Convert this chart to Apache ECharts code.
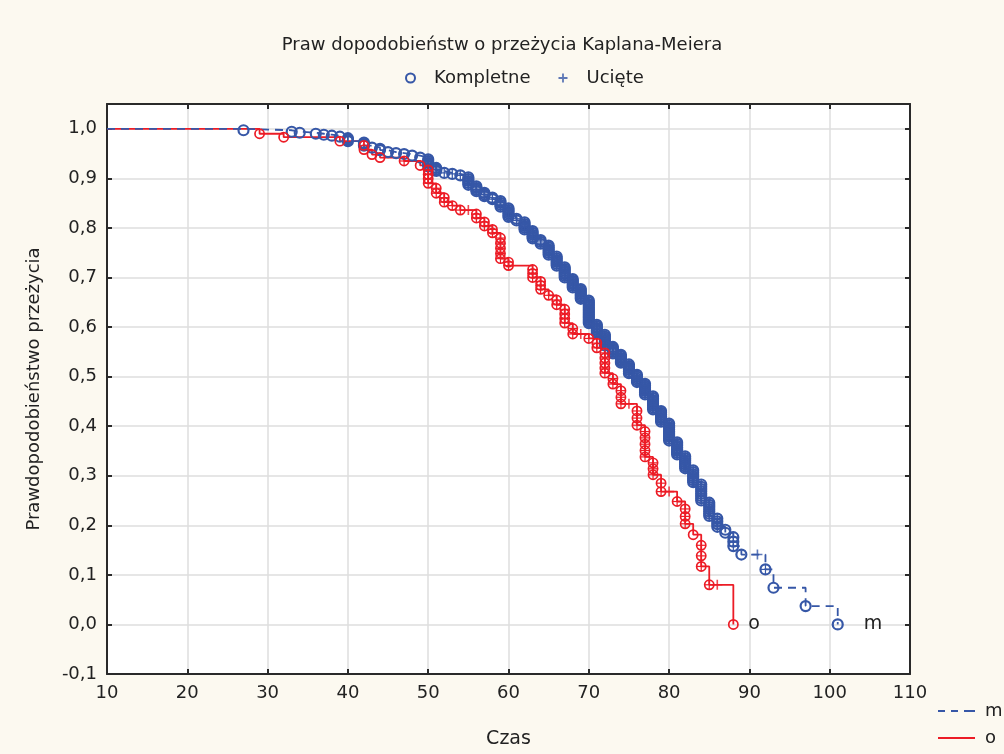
<!DOCTYPE html>
<html>
<head>
<meta charset="utf-8">
<script src="https://cdn.jsdelivr.net/npm/echarts@6/dist/echarts.min.js"></script>
<style>
  html, body { margin: 0; padding: 0; background: #fcf9f0; }
  #main { width: 1004px; height: 754px; }
</style>
</head>
<body>
<div id="main"></div>
<script>
// grupa "m": wiek zdarzenia, przeżycie po nim, liczba zdarzeń w tym wieku
var mAges = [27, 33, 34, 36, 37, 38, 39, 40, 42, 43, 44, 45, 46, 47, 48, 49, 50, 51, 52, 53, 54,
  55, 56, 57, 58, 59, 60, 61, 62, 63, 64, 65, 66, 67, 68, 69, 70, 71, 72, 73, 74, 75, 76, 77,
  78, 79, 80, 81, 82, 83, 84, 85, 86, 87, 88, 89, 92, 93, 97, 101];
var mSurv = [0.997, 0.994, 0.992, 0.990, 0.988, 0.986, 0.984, 0.975, 0.966, 0.962, 0.957, 0.953,
  0.951, 0.949, 0.946, 0.942, 0.924, 0.915, 0.911, 0.909, 0.906, 0.887, 0.874, 0.864, 0.858,
  0.843, 0.822, 0.815, 0.797, 0.779, 0.768, 0.746, 0.724, 0.700, 0.680, 0.657, 0.608, 0.588,
  0.563, 0.547, 0.528, 0.507, 0.489, 0.464, 0.434, 0.409, 0.371, 0.343, 0.315, 0.287, 0.250,
  0.219, 0.197, 0.185, 0.158, 0.141, 0.111, 0.074, 0.037, 0.0];
var mCount = [1, 1, 1, 1, 1, 1, 1, 3, 3, 1, 2, 1, 1, 1, 1, 1, 5, 3, 1, 1, 1,
  5, 4, 3, 2, 4, 6, 2, 5, 5, 3, 6, 6, 7, 6, 7, 14, 6, 7, 5, 6, 6, 5, 7,
  8, 7, 10, 8, 7, 7, 8, 7, 4, 2, 3, 1, 1, 1, 1, 1];
// obserwacje ucięte (wiek)
var mCens = [50, 51, 52, 53, 54, 55, 56, 57, 58, 59, 60, 61, 62, 63, 64, 65, 66, 67, 68, 69, 70,
  71, 72, 73, 74, 75, 76, 77, 78, 79, 80, 81, 82, 83, 84, 85, 86, 88, 91, 92];

// grupa "o"
var oAges = [29, 32, 39, 42, 43, 44, 47, 49, 50, 51, 52, 53, 54, 56, 57, 58, 59, 60, 63, 64, 65,
  66, 67, 68, 70, 71, 72, 73, 74, 76, 77, 78, 79, 81, 82, 83, 84, 85, 88];
var oSurv = [0.990, 0.983, 0.975, 0.958, 0.948, 0.942, 0.935, 0.926, 0.890, 0.870, 0.852, 0.845,
  0.836, 0.820, 0.804, 0.790, 0.738, 0.724, 0.700, 0.676, 0.664, 0.645, 0.608, 0.586, 0.577,
  0.558, 0.507, 0.485, 0.445, 0.402, 0.338, 0.302, 0.268, 0.248, 0.203, 0.181, 0.117, 0.080, 0.0];
var oCount = [1, 1, 1, 2, 1, 1, 1, 1, 4, 2, 2, 1, 1, 2, 2, 2, 5, 2, 3, 3, 1,
  2, 4, 2, 1, 2, 5, 2, 3, 3, 5, 3, 2, 1, 3, 1, 3, 1, 1];
var oCens = [47, 50, 51, 52, 53, 54, 55, 56, 57, 58, 59, 60, 63, 64, 65, 66, 67, 68, 69, 70, 71,
  72, 73, 74, 75, 76, 77, 78, 79, 80, 81, 82, 84, 85, 86];

var xTicks = [10, 20, 30, 40, 50, 60, 70, 80, 90, 100, 110];

var BLUE = '#3657a7';
var RED = '#ec1c26';
var TXT = '#222';
var FONT = '"DejaVu Sans", sans-serif';

function stepData(ages, surv) {
  var d = [[xTicks[0], 1]];
  ages.forEach(function (a, i) { d.push([a, surv[i]]); });
  return d;
}

function columns(ages, surv, counts, cens) {
  return ages.map(function (a, i) {
    return [a, i ? surv[i - 1] : 1, surv[i], counts[i], cens.indexOf(a) >= 0 ? 1 : 0];
  });
}

// ucięte bez zdarzenia w tym samym wieku -> samodzielny znak +
function lonePlus(ages, surv, cens) {
  var out = [];
  cens.forEach(function (c) {
    if (ages.indexOf(c) >= 0) return;
    var s = 1;
    ages.forEach(function (a, i) { if (a < c) s = surv[i]; });
    out.push([c, s]);
  });
  return out;
}

function makeRender(color, r, lw) {
  return function (params, api) {
    var age = api.value(0), s0 = api.value(1), s1 = api.value(2);
    var n = api.value(3);
    var plus = api.value(4) === 1;
    var kids = [];
    for (var k = 1; k <= n; k++) {
      var p = api.coord([age, s0 - k * (s0 - s1) / n]);
      kids.push({ type: 'circle', shape: { cx: p[0], cy: p[1], r: r },
        style: { fill: 'none', stroke: color, lineWidth: lw } });
      if (plus) {
        kids.push({ type: 'line', shape: { x1: p[0] - r, y1: p[1], x2: p[0] + r, y2: p[1] }, style: { stroke: color, lineWidth: 1.2 } });
        kids.push({ type: 'line', shape: { x1: p[0], y1: p[1] - r, x2: p[0], y2: p[1] + r }, style: { stroke: color, lineWidth: 1.2 } });
      }
    }
    return { type: 'group', children: kids };
  };
}

var PLUS = 'path://M0,5L10,5M5,0L5,10';

var chart = echarts.init(document.getElementById('main'));

var axisCommon = {
  axisLine: { show: true, onZero: false, lineStyle: { color: '#2a2a2a', width: 2 } },
  axisTick: { show: true, inside: true, length: 5, lineStyle: { color: '#2a2a2a', width: 2 } }
};

chart.setOption({
  backgroundColor: '#fcf9f0',
  animation: false,
  textStyle: { fontFamily: FONT },
  title: {
    text: 'Praw dopodobieństw o przeżycia Kaplana-Meiera',
    left: 'center',
    top: 31,
    textStyle: { fontSize: 18, fontWeight: 'normal', color: TXT, fontFamily: FONT }
  },
  legend: [
    {
      top: 64,
      left: 400,
      itemWidth: 9,
      itemHeight: 9,
      itemGap: 28,
      textStyle: { fontSize: 18, color: TXT, fontFamily: FONT, padding: [0, 0, 0, 14] },
      data: [
        { name: 'Kompletne', icon: 'circle', itemStyle: { color: 'transparent', borderColor: BLUE, borderWidth: 2 } },
        { name: 'Ucięte', icon: 'path://M4,0L6,0L6,4L10,4L10,6L6,6L6,10L4,10L4,6L0,6L0,4L4,4Z', itemStyle: { color: BLUE, borderWidth: 0 } }
      ]
    },
    {
      left: 938,
      top: 702,
      padding: 0,
      orient: 'vertical',
      itemWidth: 37,
      itemHeight: 14,
      itemGap: 9,
      symbolKeepAspect: true,
      textStyle: { fontSize: 18, color: TXT, fontFamily: FONT, padding: [0, 0, 0, 5] },
      data: [
        { name: 'm', icon: 'path://M0,0h7v2h-7z M13,0h7v2h-7z M26,0h11v2h-11z', itemStyle: { color: BLUE, borderWidth: 0 } },
        { name: 'o', icon: 'path://M0,0h37v2h-37z', itemStyle: { color: RED, borderWidth: 0 } }
      ]
    }
  ],
  grid: {
    left: 107, right: 94, top: 104, bottom: 80,
    show: true, backgroundColor: '#ffffff', borderWidth: 0
  },
  xAxis: [
    Object.assign({
      type: 'value', min: 10, max: 110, interval: 10, position: 'bottom',
      name: 'Czas', nameLocation: 'middle', nameGap: 56,
      nameTextStyle: { fontSize: 19, color: TXT, fontFamily: FONT },
      axisLabel: { fontSize: 18, color: TXT, margin: 10, fontFamily: FONT },
      splitLine: { show: true, lineStyle: { color: '#dedede', width: 1.5 } }
    }, axisCommon),
    Object.assign({
      type: 'value', min: 10, max: 110, interval: 10, position: 'top',
      axisLabel: { show: false }, splitLine: { show: false }
    }, axisCommon)
  ],
  yAxis: [
    Object.assign({
      type: 'value', min: -0.1, max: 1.05, interval: 0.1, position: 'left',
      name: 'Prawdopodobieństwo przeżycia', nameLocation: 'middle', nameGap: 64,
      nameTextStyle: { fontSize: 18, color: TXT, fontFamily: FONT },
      axisLabel: {
        fontSize: 18, color: TXT, margin: 10, fontFamily: FONT,
        formatter: function (v) {
          if (Math.abs(v * 10 - Math.round(v * 10)) > 1e-6) return '';
          return (Math.round(v * 10) / 10).toFixed(1).replace('.', ',');
        }
      },
      splitLine: { show: true, lineStyle: { color: '#dedede', width: 1.5 } }
    }, axisCommon),
    Object.assign({
      type: 'value', min: -0.1, max: 1.05, interval: 0.1, position: 'right',
      axisLabel: { show: false }, splitLine: { show: false }
    }, axisCommon)
  ],
  series: [
    {
      name: 'o', type: 'line', step: 'end', symbol: 'none', z: 2,
      data: stepData(oAges, oSurv),
      itemStyle: { color: RED },
      lineStyle: { color: RED, width: 1.8 },
      endLabel: { show: true, formatter: 'o', distance: 15, color: TXT, fontSize: 19, fontFamily: FONT }
    },
    {
      name: 'm', type: 'line', step: 'end', symbol: 'none', z: 3,
      data: stepData(mAges, mSurv),
      itemStyle: { color: BLUE },
      lineStyle: { color: BLUE, width: 1.8, type: [8, 6] },
      endLabel: { show: true, formatter: 'm', distance: 26, color: TXT, fontSize: 19, fontFamily: FONT }
    },
    {
      name: 'Kompletne', type: 'custom', z: 4,
      renderItem: makeRender(BLUE, 5, 2.2),
      data: columns(mAges, mSurv, mCount, mCens),
      itemStyle: { color: BLUE }
    },
    {
      name: 'Kompletne', type: 'custom', z: 5,
      renderItem: makeRender(RED, 4.6, 1.7),
      data: columns(oAges, oSurv, oCount, oCens),
      itemStyle: { color: RED }
    },
    {
      name: 'Ucięte', type: 'scatter', symbol: PLUS, symbolSize: 10, z: 6,
      data: lonePlus(mAges, mSurv, mCens),
      itemStyle: { color: 'none', borderColor: BLUE, borderWidth: 1.6 }
    },
    {
      name: 'Ucięte', type: 'scatter', symbol: PLUS, symbolSize: 10, z: 6,
      data: lonePlus(oAges, oSurv, oCens),
      itemStyle: { color: 'none', borderColor: RED, borderWidth: 1.6 }
    }
  ]
});
</script>
</body>
</html>
